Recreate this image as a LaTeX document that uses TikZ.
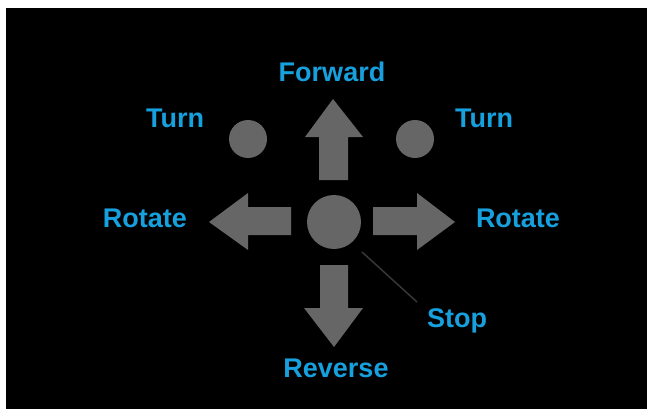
\documentclass[tikz,border=0pt]{standalone}
\usepackage{fontspec}
\setmainfont{Liberation Sans}
\begin{document}
\begin{tikzpicture}[x=1pt,y=-1pt,
  lbl/.style={anchor=base,inner sep=0pt,text=labelblue,font=\fontsize{27}{30}\selectfont\bfseries},
  arrowfill/.style={fill=shapegray,draw=none},
  dot/.style={circle,fill=shapegray,draw=none,inner sep=0pt,minimum size=#1}]
\definecolor{labelblue}{RGB}{22,160,222}
\definecolor{shapegray}{RGB}{102,102,102}
\definecolor{linegray}{RGB}{55,55,55}
\useasboundingbox (0,0) rectangle (647,409);
\fill[white] (0,0) rectangle (647,409);
\fill[black] (6,8) rectangle (647,409);
% arrows
\path[arrowfill] (319,180) -- (319,137) -- (305,137) -- (333,99) -- (363,137) -- (348,137) -- (348,180) -- cycle;
\path[arrowfill] (320,265) -- (320,308) -- (304,308) -- (334,347) -- (363,308) -- (348,308) -- (348,265) -- cycle;
\path[arrowfill] (291,207) -- (248,207) -- (248,193) -- (209,222) -- (248,250) -- (248,235) -- (291,235) -- cycle;
\path[arrowfill] (373,207) -- (417,207) -- (417,193) -- (455,222) -- (417,250) -- (417,235) -- (373,235) -- cycle;
% circles
\node[dot=54pt] (stopc) at (334,222) {};
\node[dot=38pt] (turnl) at (248,139) {};
\node[dot=38pt] (turnr) at (415,139) {};
% labels
\node[lbl] (fwd) at (332,82) {Forward};
\node[lbl] (rev) at (336,377) {Reverse};
\node[lbl] (tl) at (175,127) {Turn};
\node[lbl] (tr) at (484,127) {Turn};
\node[lbl] (rl) at (145,227) {Rotate};
\node[lbl] (rr) at (518,227) {Rotate};
\node[lbl] (stop) at (457,327) {Stop};
\coordinate (s1) at (362,252);
\coordinate (s2) at (417,302);
\draw[linegray,line width=1.5pt] (s1) -- (s2);
\end{tikzpicture}
\end{document}
